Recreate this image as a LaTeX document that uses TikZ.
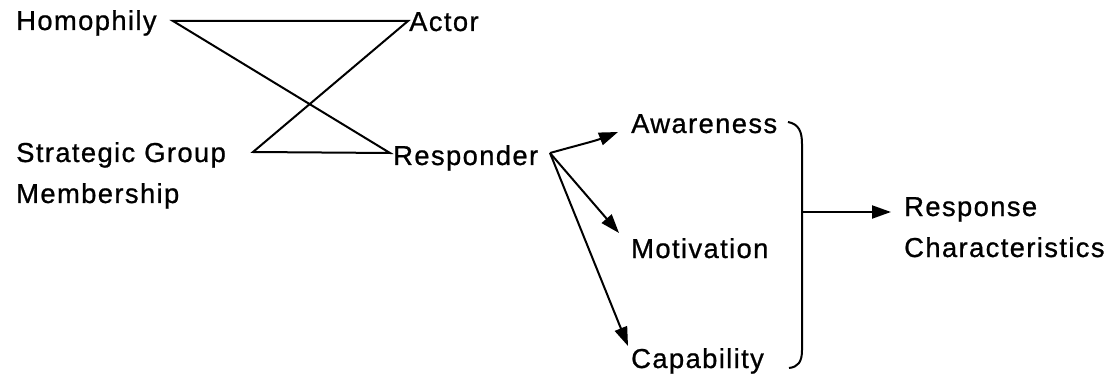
\documentclass[tikz,border=0pt]{standalone}
\usepackage{fontspec}
\setmainfont{Liberation Sans}[LetterSpace=5,FakeBold=0.8]
\usetikzlibrary{arrows.meta}
\begin{document}
\begin{tikzpicture}[x=1pt,y=-1pt,
  lbl/.style={anchor=base west,inner sep=0pt,font=\fontsize{27.4}{41}\selectfont,align=left},
  link/.style={line width=2pt,line join=miter},
  arr/.style={line width=2pt,-{Triangle[length=19pt,width=13pt]}}]
\useasboundingbox (0,0) rectangle (1110,382);

% labels (two-line labels sit on the baseline of their last line)
\node[lbl] (hom) at (16,30) {Homophily};
\node[lbl] (act) at (409,31) {Actor};
\node[lbl] (sgm) at (16,203) {Strategic Group\\Membership};
\node[lbl] (res) at (393,165) {Responder};
\node[lbl] (awa) at (631,133) {Awareness};
\node[lbl] (mot) at (631,258) {Motivation};
\node[lbl] (cap) at (631,368) {Capability};
\node[lbl] (rch) at (904,257) {Response\\Characteristics};

% corner points of the crossed links
\coordinate (hv) at (173,21);
\coordinate (av) at (408,21);
\coordinate (sv) at (253,152);
\coordinate (rv) at (390,153);
\coordinate (ro) at (550,153);

\draw[link] (hv) -- (av) -- (sv) -- (rv) -- cycle;

% responder to the three factors
\draw[arr] (ro) .. controls (575,146) and (595,141) .. (618,132);
\draw[arr] (ro) -- (619,233);
\draw[arr] (ro) -- (628,346);

% bracket and the result arrow
\draw[line width=2pt] (788,122) .. controls (799,124) and (802,132) .. (802,144)
  -- (802,350) .. controls (802,362) and (798,367) .. (789,368);
\coordinate (bm) at (802,212);
\draw[arr] (bm) -- (891,212);
\end{tikzpicture}
\end{document}
